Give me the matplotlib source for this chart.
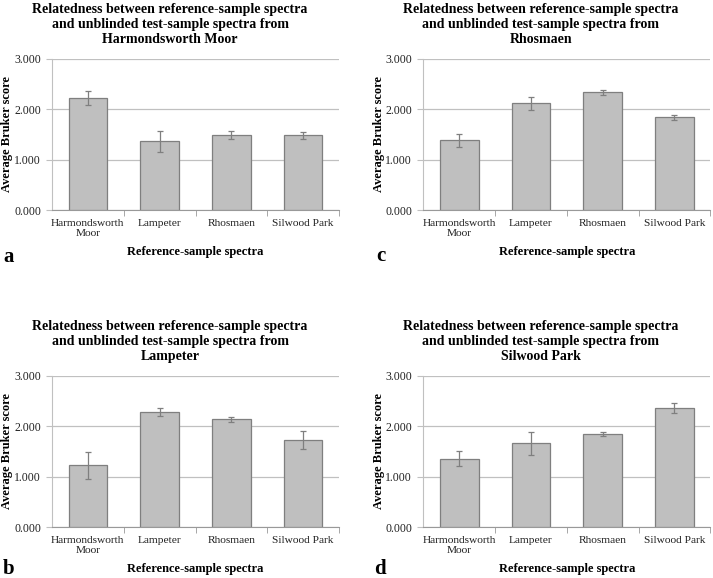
import matplotlib
matplotlib.use("Agg")
import matplotlib.pyplot as plt
import numpy as np

plt.rcParams['font.family'] = ['Liberation Serif', 'DejaVu Serif']

categories = ["Harmondsworth\nMoor", "Lampeter", "Rhosmaen", "Silwood Park"]

sources = ["Harmondsworth Moor", "Lampeter", "Rhosmaen", "Silwood Park"]
letters = ["a", "b", "c", "d"]

scores_a = [2.227, 1.361, 1.480, 1.480]
errors_a = [0.14, 0.21, 0.08, 0.07]
scores_b = [1.226, 2.275, 2.136, 1.727]
errors_b = [0.27, 0.08, 0.05, 0.185]
scores_c = [1.381, 2.121, 2.333, 1.837]
errors_c = [0.135, 0.13, 0.05, 0.05]
scores_d = [1.358, 1.662, 1.840, 2.367]
errors_d = [0.15, 0.23, 0.04, 0.10]

W, H = 713, 578
fig = plt.figure(figsize=(W / 100, H / 100), dpi=100)


def px(x, y):
    # pixel (from top-left) -> figure fraction
    return x / W, 1 - y / H


# scores, errors, source, letter, ax_left, ax_top, chart_cx, ylab_x,
# letter_x, letter_baseline
panels = [
    (scores_a, errors_a, sources[0], letters[0], 52, 58.7, 170, 7.5, 3.5, 261.5),
    (scores_b, errors_b, sources[1], letters[1], 52, 375.7, 170, 7.5, 2.5, 573.5),
    (scores_c, errors_c, sources[2], letters[2], 423.3, 58.7, 541, 378.7, 376, 261),
    (scores_d, errors_d, sources[3], letters[3], 423.3, 375.7, 541, 378.7, 374.5, 573.5),
]
ax_w, ax_h = 287, 151.5

grid_col = "#c0c0c0"
text_col = "#222222"

for scores, errs, src, letter, left, top, cx, ylx, lx, ly in panels:
    ax = fig.add_axes([left / W, 1 - (top + ax_h) / H, ax_w / W, ax_h / H])
    x = np.arange(len(categories))
    ax.bar(x, scores, width=0.54, color="#bfbfbf", edgecolor="#7f7f7f",
           linewidth=0.9, zorder=3)
    ax.errorbar(x, scores, yerr=errs, fmt="none", ecolor="#7f7f7f",
                elinewidth=0.9, capsize=2, capthick=0.9, zorder=4)
    ax.set_xlim(-0.5, 3.5)
    ax.set_ylim(0, 3)
    ax.set_yticks([0, 1, 2, 3])
    ax.set_yticklabels(["%.3f" % v for v in [0, 1, 2, 3]])
    ax.yaxis.grid(True, color=grid_col, linewidth=0.9, zorder=0)
    ax.set_axisbelow(True)
    for s in ["top", "right"]:
        ax.spines[s].set_visible(False)
    ax.spines["left"].set_color(grid_col)
    ax.spines["bottom"].set_color("#999999")
    ax.tick_params(axis="y", length=4, color=grid_col, labelsize=8.5,
                   labelcolor=text_col, pad=4)
    ax.set_xticks(x)
    ax.set_xticklabels(categories, fontsize=8.2, color=text_col,
                       linespacing=1.15)
    ax.set_xticks([0.5, 1.5, 2.5, 3.5], minor=True)
    ax.tick_params(axis="x", which="major", length=0, pad=6)
    ax.tick_params(axis="x", which="minor", length=4, color="#999999")

    mid = left + ax_w / 2
    fig.text(*px(mid, top + ax_h + 41.5), "Reference-sample spectra",
             fontsize=9, fontweight="bold", ha="center", va="center")
    fig.text(*px(ylx, top + ax_h / 2), "Average Bruker score",
             fontsize=9, fontweight="bold", ha="center", va="center",
             rotation=90)
    fig.text(*px(cx, top - 34.4),
             "Relatedness between reference-sample spectra\n"
             "and unblinded test-sample spectra from\n" + src,
             ha="center", va="center", fontsize=10, fontweight="bold",
             linespacing=1.2)
    fig.text(*px(lx, ly), letter, fontsize=15,
             fontweight="bold", ha="left", va="baseline")

fig.savefig("out.png", dpi=100)
